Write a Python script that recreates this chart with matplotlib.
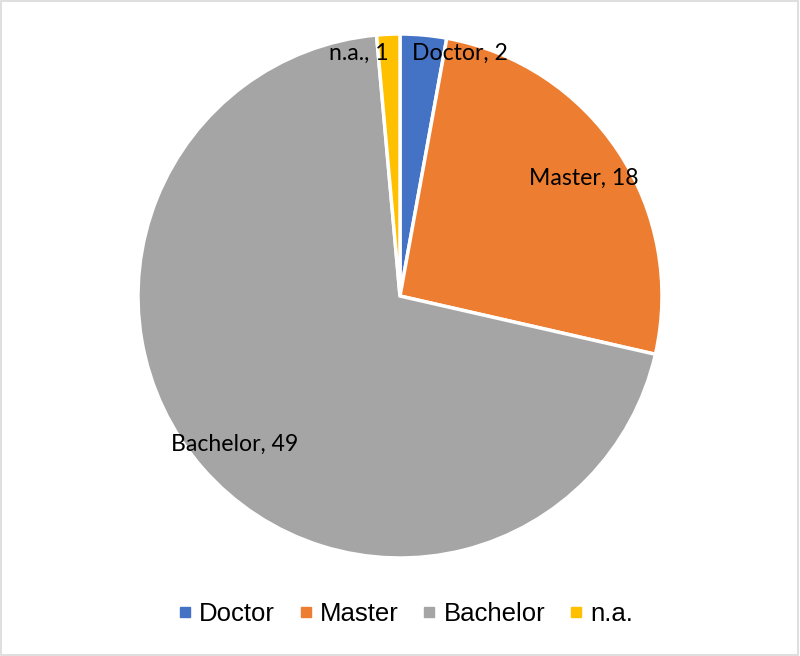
import matplotlib.pyplot as plt
import numpy as np
from matplotlib.lines import Line2D
from matplotlib.patches import Rectangle

labels = ["Doctor", "Master", "Bachelor", "n.a."]
values = [2, 18, 49, 1]
colors = ["#4472C4", "#ED7D31", "#A5A5A5", "#FFC000"]

fig = plt.figure(figsize=(8, 6.56), dpi=100)
ax = fig.add_axes([138 / 800, 98 / 656, 524 / 800, 524 / 656])

wedges, _ = ax.pie(values, colors=colors, startangle=90, counterclock=False,
                   radius=1, wedgeprops=dict(edgecolor="white", linewidth=2.5))
ax.set_xlim(-1, 1)
ax.set_ylim(-1, 1)
ax.set_aspect("equal")
ax.axis("off")

# data labels, placed roughly like Excel's best-fit
for w, lab, v in zip(wedges, labels, values):
    mid = np.deg2rad((w.theta1 + w.theta2) / 2)
    txt = f"{lab}, {v}"
    if v >= 10:
        r = 0.84
        ax.text(r * np.cos(mid), r * np.sin(mid) - 0.015, txt, ha="center",
                va="center", fontsize=16.6, family="Lato")
    else:
        side = 1 if np.cos(mid) > 0 else -1
        ax.text(0.045 * side, 0.925, txt, ha="left" if side > 0 else "right",
                va="center", fontsize=16.6, family="Lato")

handles = [Line2D([], [], marker="s", color=c, linestyle="none", markersize=7)
           for c in colors]
fig.legend(handles, labels, loc="center", bbox_to_anchor=(0.507, 1 - 614 / 656),
           ncol=4, frameon=False, prop=dict(family="Liberation Sans", size=18.5),
           handlelength=0.5, handletextpad=0.3, columnspacing=0.95)

fig.patches.append(Rectangle((0.001, 0.001), 0.997, 0.997, transform=fig.transFigure,
                             fill=False, edgecolor="#D9D9D9", linewidth=1.2))

fig.savefig("out.png", dpi=100)
